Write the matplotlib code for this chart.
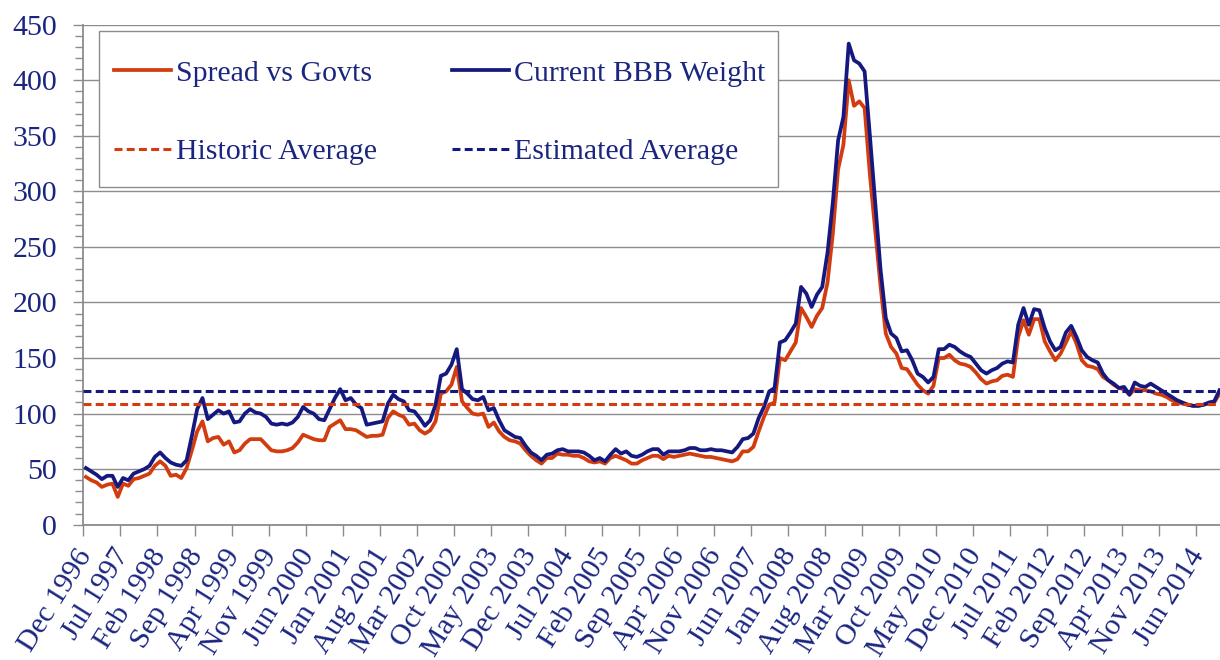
import matplotlib.pyplot as plt
import matplotlib.transforms as mtransforms
import numpy as np
from matplotlib.patches import Rectangle
from matplotlib.ticker import FixedLocator, MultipleLocator

plt.rcParams["font.family"] = ["Liberation Serif", "DejaVu Serif"]

# monthly, Dec 1996 .. Oct 2014 (bp)
SPREAD = [
    43, 40, 38, 34, 36, 37, 25, 37, 35, 41,
    42, 44, 46, 53, 57, 53, 44, 45, 42, 51,
    67, 84, 93, 75, 78, 79, 72, 75, 65, 67,
    73, 77, 77, 77, 72, 67, 66, 66, 67, 69,
    74, 81, 79, 77, 76, 76, 88, 91, 94, 86,
    86, 85, 82, 79, 80, 80, 81, 96, 102, 99,
    97, 90, 91, 85, 82, 85, 93, 118, 120, 126,
    142, 111, 105, 100, 99, 100, 88, 92, 84, 79,
    76, 75, 73, 67, 62, 58, 55, 60, 60, 64,
    63, 63, 62, 62, 60, 57, 56, 57, 55, 60,
    62, 60, 58, 55, 55, 58, 60, 62, 62, 59,
    62, 61, 62, 63, 64, 63, 62, 61, 61, 60,
    59, 58, 57, 59, 66, 66, 70, 84, 97, 108,
    110, 150, 148, 156, 164, 195, 187, 178, 188, 195,
    218, 262, 320, 342, 400, 377, 381, 375, 315, 265,
    215, 172, 160, 154, 141, 140, 133, 126, 121, 118,
    125, 150, 150, 153, 148, 145, 144, 142, 137, 131,
    127, 129, 130, 134, 135, 133, 169, 184, 171, 185,
    185, 165, 156, 148, 154, 164, 174, 163, 148, 143,
    142, 140, 133, 130, 126, 123, 122, 117, 122, 121,
    121, 120, 118, 117, 115, 112, 110, 109, 108, 107,
    107, 108, 109, 110, 118,
]
BBB_WEIGHT = [
    51, 48, 45, 41, 44, 44, 34, 42, 40, 46,
    48, 50, 53, 61, 65, 60, 56, 54, 53, 58,
    80, 104, 114, 95, 99, 103, 100, 102, 92, 93,
    100, 104, 101, 100, 97, 91, 90, 91, 90, 92,
    97, 106, 102, 100, 95, 94, 104, 114, 122, 112,
    114, 108, 105, 90, 91, 92, 93, 109, 117, 113,
    111, 103, 102, 96, 89, 94, 108, 134, 136, 144,
    158, 122, 118, 113, 112, 115, 103, 105, 94, 85,
    82, 79, 78, 71, 65, 62, 58, 63, 64, 67,
    68, 66, 66, 66, 65, 62, 58, 60, 57, 63,
    68, 64, 66, 62, 61, 63, 66, 68, 68, 63,
    66, 66, 66, 67, 69, 69, 67, 67, 68, 67,
    67, 66, 65, 70, 77, 78, 82, 96, 106, 120,
    123, 164, 166, 173, 181, 214, 208, 196, 207, 214,
    245, 290, 346, 367, 433, 418, 415, 408, 350, 290,
    230, 186, 172, 168, 156, 157, 148, 136, 133, 128,
    133, 158, 158, 162, 160, 156, 153, 151, 145, 139,
    136, 139, 141, 145, 147, 146, 180, 195, 180, 194,
    193, 177, 165, 157, 160, 173, 179, 169, 157, 151,
    148, 146, 136, 130, 127, 123, 124, 117, 128, 125,
    124, 127, 124, 121, 118, 115, 112, 110, 108, 107,
    107, 108, 110, 111, 121,
]
HISTORIC_AVG = 109
ESTIMATED_AVG = 120

TICK_LABELS = [
    "Dec 1996", "Jul 1997", "Feb 1998", "Sep 1998", "Apr 1999", "Nov 1999",
    "Jun 2000", "Jan 2001", "Aug 2001", "Mar 2002", "Oct 2002", "May 2003",
    "Dec 2003", "Jul 2004", "Feb 2005", "Sep 2005", "Apr 2006", "Nov 2006",
    "Jun 2007", "Jan 2008", "Aug 2008", "Mar 2009", "Oct 2009", "May 2010",
    "Dec 2010", "Jul 2011", "Feb 2012", "Sep 2012", "Apr 2013", "Nov 2013",
    "Jun 2014",
]
TICK_STEP = 7

RED = "#D23C0E"
NAVY = "#15197F"
TEXT = "#1A2580"
GRAY = "#8C8C8C"
FS = 21.5

W, H = 1220, 660
fig = plt.figure(figsize=(W / 100, H / 100), dpi=100)
ax = fig.add_axes([83.3 / W, 135.3 / H, (W - 83.3) / W, 500 / H])

x = np.arange(len(SPREAD))
l1, = ax.plot(x, SPREAD, color=RED, lw=2.7, zorder=3)
l2, = ax.plot(x, BBB_WEIGHT, color=NAVY, lw=2.7, zorder=4)
l3 = ax.axhline(HISTORIC_AVG, color=RED, lw=2.2, dashes=(2.6, 1.4), zorder=5)
l4 = ax.axhline(ESTIMATED_AVG, color=NAVY, lw=2.2, dashes=(2.6, 1.4), zorder=5)

ax.set_xlim(-0.5, (W - 83.3) / 5.297 - 0.5)
ax.set_ylim(0, 450)

ax.yaxis.set_major_locator(MultipleLocator(50))
ax.yaxis.set_minor_locator(MultipleLocator(10))
ax.grid(axis="y", which="major", color=GRAY, lw=1.0)
ax.set_axisbelow(True)

pos = np.arange(len(TICK_LABELS)) * TICK_STEP
ax.xaxis.set_major_locator(FixedLocator(pos))
ax.xaxis.set_minor_locator(FixedLocator(pos - 0.5))
ax.set_xticklabels(TICK_LABELS, rotation=58, ha="right", va="center",
                   rotation_mode="anchor")
shift = mtransforms.ScaledTranslation(5 / 100, 0, fig.dpi_scale_trans)
for lab in ax.get_xticklabels():
    lab.set_transform(lab.get_transform() + shift)

ax.tick_params(axis="y", which="major", length=7, width=1, color=GRAY,
               labelsize=FS, labelcolor=TEXT, pad=12)
ax.tick_params(axis="y", which="minor", length=6, width=1, color=GRAY)
ax.tick_params(axis="x", which="major", length=0, labelsize=FS,
               labelcolor=TEXT, pad=19)
ax.tick_params(axis="x", which="minor", length=8, width=1, color=GRAY)

for s in ("top", "right"):
    ax.spines[s].set_visible(False)
for s in ("left", "bottom"):
    ax.spines[s].set_color(GRAY)
    ax.spines[s].set_linewidth(1.3)

box = Rectangle((99 / W, 1 - 187 / H), 679 / W, 156.3 / H,
                transform=fig.transFigure, facecolor="white",
                edgecolor=GRAY, lw=1.0, zorder=6, clip_on=False)
ax.add_patch(box)

leg = ax.legend([l1, l3, l2, l4],
                ["Spread vs Govts", "Historic Average",
                 "Current BBB Weight", "Estimated Average"],
                ncol=2, frameon=False, fontsize=FS, loc="upper left",
                bbox_to_anchor=(99 / W, 1 - 45 / H),
                bbox_transform=fig.transFigure, borderpad=0,
                handlelength=1.9, handletextpad=0.17, columnspacing=2.53,
                labelspacing=1.72)
leg.set_zorder(7)
for t in leg.get_texts():
    t.set_color(TEXT)

fig.savefig("out.png", dpi=100)
